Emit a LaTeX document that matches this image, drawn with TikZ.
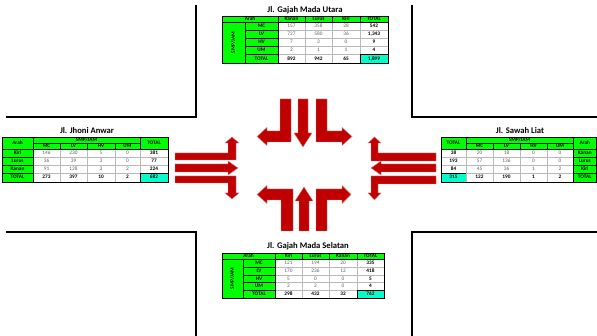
\documentclass[tikz,border=0pt]{standalone}
\usepackage{fontspec}
\setmainfont{Carlito}
\definecolor{xgreen}{RGB}{0,255,0}
\definecolor{xcyan}{RGB}{0,255,204}
\definecolor{arrowred}{RGB}{192,0,0}
\definecolor{datagray}{RGB}{95,95,95}

% one table cell: name, x1, y1, x2, y2, style, text
\newcommand{\tcell}[7]{%
  \node[#6, minimum width={(#4-#2)*1pt}, minimum height={(#5-#3)*1pt}] (#1) at ({(#2+#4)/2},{(#3+#5)/2}) {#7};}

\tikzset{
  cellbase/.style={rectangle, inner sep=0pt, outer sep=0pt, line width=0.5pt,
    text height=3.6pt, text depth=1pt},
  hd/.style={cellbase, fill=xgreen, draw=black, font=\fontsize{5.3}{5.3}\selectfont\bfseries},
  dt/.style={cellbase, fill=white, draw=gray!55, text=datagray, font=\fontsize{5.3}{5.3}\selectfont},
  tt/.style={cellbase, fill=white, draw=gray!55, font=\fontsize{5.3}{5.3}\selectfont\bfseries},
  gt/.style={cellbase, fill=xcyan, draw=black, font=\fontsize{5.3}{5.3}\selectfont\bfseries},
  frame/.style={draw=black, line width=0.8pt},
  ttl/.style={inner sep=0pt, font=\fontsize{8.6}{8.6}\selectfont\bfseries},
  road/.style={draw=black, line width=1.6pt},
  turnarrow/.style={fill=arrowred, draw=arrowred!50!white, line width=0.4pt, line join=miter}
}

\begin{document}
\begin{tikzpicture}[x=1pt, y=-1pt]
\useasboundingbox (0,0) rectangle (597,336);

% ---------------- road edges ----------------
\draw[road] (6,117) -- (196,117) -- (196,5);
\draw[road] (412,5) -- (412,117) -- (597,117);
\draw[road] (6,232) -- (196,232) -- (196,336);
\draw[road] (597,232) -- (412,232) -- (412,336);

% ---------------- movement arrows ----------------
% from the north
\draw[turnarrow] (280,99) -- (291,99) -- (291,142) -- (267,142) -- (267,145.5) -- (257,136.5) -- (267,127.5) -- (267,131) -- (280,131) -- cycle;
\draw[turnarrow] (298,99) -- (308,99) -- (308,133) -- (312,133) -- (303,147) -- (294,133) -- (298,133) -- cycle;
\draw[turnarrow] (316,99) -- (327,99) -- (327,131) -- (342,131) -- (342,127.5) -- (352,136.5) -- (342,145.5) -- (342,142) -- (316,142) -- cycle;
% from the south
\draw[turnarrow] (281,231) -- (293,231) -- (293,189) -- (267,189) -- (267,185.5) -- (257,194.5) -- (267,203.5) -- (267,200) -- (281,200) -- cycle;
\draw[turnarrow] (299,231) -- (309,231) -- (309,201) -- (313,201) -- (304,187) -- (295,201) -- (299,201) -- cycle;
\draw[turnarrow] (316,231) -- (316,189) -- (342,189) -- (342,185.5) -- (351,194.5) -- (342,203.5) -- (342,200) -- (327,200) -- (327,231) -- cycle;
% from the west
\draw[turnarrow] (175,153) -- (228,153) -- (228,143) -- (225,143) -- (232,137) -- (239,143) -- (236,143) -- (236,160) -- (175,160) -- cycle;
\draw[turnarrow] (175,164) -- (228,164) -- (228,161) -- (238,168) -- (228,175) -- (228,172) -- (175,172) -- cycle;
\draw[turnarrow] (175,176) -- (236,176) -- (236,193) -- (239,193) -- (232,199) -- (225,193) -- (228,193) -- (228,183) -- (175,183) -- cycle;
% from the east
\draw[turnarrow] (436,153) -- (378,153) -- (378,143) -- (381,143) -- (374.5,137) -- (368,143) -- (371,143) -- (371,161) -- (436,161) -- cycle;
\draw[turnarrow] (436,164) -- (381,164) -- (381,161) -- (371,168) -- (381,175) -- (381,172) -- (436,172) -- cycle;
\draw[turnarrow] (436,176) -- (371,176) -- (371,193) -- (368,193) -- (374.5,200) -- (381,193) -- (378,193) -- (378,184) -- (436,184) -- cycle;

% ---------------- Jl. Gajah Mada Utara ----------------
\node[ttl] (ttl-u) at (305,10) {Jl. Gajah Mada Utara};
\foreach \n/\ya/\yb/\va/\vb/\vc/\vt in {mc/22.5/30.5/157/358/28/542, lv/30.5/38.5/727/580/36/{1,343}, hv/38.5/46.5/7/3/0/9, um/46.5/54.5/2/1/1/4}{
  \tcell{u-\n-a}{278}{\ya}{305}{\yb}{dt}{\va}
  \tcell{u-\n-b}{305}{\ya}{332}{\yb}{dt}{\vb}
  \tcell{u-\n-c}{332}{\ya}{360}{\yb}{dt}{\vc}
  \tcell{u-\n-t}{360}{\ya}{388}{\yb}{tt}{\vt}
}
\tcell{u-tot-a}{278}{54.5}{305}{63}{tt}{892}
\tcell{u-tot-b}{305}{54.5}{332}{63}{tt}{942}
\tcell{u-tot-c}{332}{54.5}{360}{63}{tt}{65}
\tcell{u-tot-t}{360}{54.5}{388}{63}{gt}{1,899}
\foreach \n/\lab/\ya/\yb in {mc/MC/22.5/30.5, lv/LV/30.5/38.5, hv/HV/38.5/46.5, um/UM/46.5/54.5, tot/TOTAL/54.5/63}{
  \tcell{u-\n-l}{245}{\ya}{278}{\yb}{hd}{\lab}
}
\tcell{u-arah}{222}{16}{278}{22.5}{hd}{Arah}
\tcell{u-h-a}{278}{16}{305}{22.5}{hd}{Kanan}
\tcell{u-h-b}{305}{16}{332}{22.5}{hd}{Lurus}
\tcell{u-h-c}{332}{16}{360}{22.5}{hd}{Kiri}
\tcell{u-h-t}{360}{16}{388}{22.5}{hd}{TOTAL}
\node[hd, rotate=90, minimum width=40.5pt, minimum height=23pt] (u-smp) at (233.5,42.75) {SMP/JAM};
\draw[frame] (222,16) rectangle (388,63);

% ---------------- Jl. Gajah Mada Selatan ----------------
\node[ttl] (ttl-s) at (308,246) {Jl. Gajah Mada Selatan};
\foreach \n/\ya/\yb/\va/\vb/\vc/\vt in {mc/259.5/267/121/194/20/335, lv/267/275/170/236/12/418, hv/275/282.5/5/0/0/5, um/282.5/290/2/2/0/4}{
  \tcell{s-\n-a}{275}{\ya}{302}{\yb}{dt}{\va}
  \tcell{s-\n-b}{302}{\ya}{329}{\yb}{dt}{\vb}
  \tcell{s-\n-c}{329}{\ya}{357}{\yb}{dt}{\vc}
  \tcell{s-\n-t}{357}{\ya}{384}{\yb}{tt}{\vt}
}
\tcell{s-tot-a}{275}{290}{302}{298}{tt}{298}
\tcell{s-tot-b}{302}{290}{329}{298}{tt}{432}
\tcell{s-tot-c}{329}{290}{357}{298}{tt}{32}
\tcell{s-tot-t}{357}{290}{384}{298}{gt}{762}
\foreach \n/\lab/\ya/\yb in {mc/MC/259.5/267, lv/LV/267/275, hv/HV/275/282.5, um/UM/282.5/290, tot/TOTAL/290/298}{
  \tcell{s-\n-l}{243}{\ya}{275}{\yb}{hd}{\lab}
}
\tcell{s-arah}{222}{253}{275}{259.5}{hd}{Arah}
\tcell{s-h-a}{275}{253}{302}{259.5}{hd}{Kiri}
\tcell{s-h-b}{302}{253}{329}{259.5}{hd}{Lurus}
\tcell{s-h-c}{329}{253}{357}{259.5}{hd}{Kanan}
\tcell{s-h-t}{357}{253}{384}{259.5}{hd}{TOTAL}
\node[hd, rotate=90, minimum width=38.5pt, minimum height=21pt] (s-smp) at (232.5,278.75) {SMP/JAM};
\draw[frame] (222,253) rectangle (384,298);

% ---------------- Jl. Jhoni Anwar ----------------
\node[ttl] (ttl-w) at (87,131) {Jl. Jhoni Anwar};
\foreach \n/\ya/\yb/\va/\vb/\vc/\vd/\vt in {ki/149/157/146/230/5/0/381, lu/157/165/36/39/3/0/77, ka/165/173/91/128/3/2/224}{
  \tcell{w-\n-a}{33}{\ya}{60}{\yb}{dt}{\va}
  \tcell{w-\n-b}{60}{\ya}{87}{\yb}{dt}{\vb}
  \tcell{w-\n-c}{87}{\ya}{115}{\yb}{dt}{\vc}
  \tcell{w-\n-d}{115}{\ya}{140}{\yb}{dt}{\vd}
  \tcell{w-\n-t}{140}{\ya}{168}{\yb}{tt}{\vt}
}
\tcell{w-tot-a}{33}{173}{60}{182}{tt}{273}
\tcell{w-tot-b}{60}{173}{87}{182}{tt}{397}
\tcell{w-tot-c}{87}{173}{115}{182}{tt}{10}
\tcell{w-tot-d}{115}{173}{140}{182}{tt}{2}
\tcell{w-tot-t}{140}{173}{168}{182}{gt}{682}
\foreach \n/\lab/\ya/\yb in {ki/Kiri/149/157, lu/Lurus/157/165, ka/Kanan/165/173, tot/TOTAL/173/182}{
  \tcell{w-\n-l}{2}{\ya}{33}{\yb}{hd}{\lab}
}
\tcell{w-arah}{2}{137}{33}{149}{hd}{Arah}
\tcell{w-smp}{33}{137}{140}{143}{hd}{SMP/JAM}
\tcell{w-h-a}{33}{143}{60}{149}{hd}{MC}
\tcell{w-h-b}{60}{143}{87}{149}{hd}{LV}
\tcell{w-h-c}{87}{143}{115}{149}{hd}{HV}
\tcell{w-h-d}{115}{143}{140}{149}{hd}{UM}
\tcell{w-h-t}{140}{137}{168}{149}{hd}{TOTAL}
\draw[frame] (2,137) rectangle (168,182);

% ---------------- Jl. Sawah Liat ----------------
\node[ttl] (ttl-e) at (520,131) {Jl. Sawah Liat};
\foreach \n/\lab/\ya/\yb/\vt/\va/\vb/\vc/\vd in {ka/Kanan/149/157/38/20/18/0/0, lu/Lurus/157/165/193/57/136/0/0, ki/Kiri/165/173/84/45/36/1/2}{
  \tcell{e-\n-t}{441}{\ya}{466}{\yb}{tt}{\vt}
  \tcell{e-\n-a}{466}{\ya}{493}{\yb}{dt}{\va}
  \tcell{e-\n-b}{493}{\ya}{520}{\yb}{dt}{\vb}
  \tcell{e-\n-c}{520}{\ya}{547}{\yb}{dt}{\vc}
  \tcell{e-\n-d}{547}{\ya}{573}{\yb}{dt}{\vd}
  \tcell{e-\n-l}{573}{\ya}{596.5}{\yb}{hd}{\lab}
}
\tcell{e-tot-t}{441}{173}{466}{182}{gt}{315}
\tcell{e-tot-a}{466}{173}{493}{182}{tt}{122}
\tcell{e-tot-b}{493}{173}{520}{182}{tt}{190}
\tcell{e-tot-c}{520}{173}{547}{182}{tt}{1}
\tcell{e-tot-d}{547}{173}{573}{182}{tt}{2}
\tcell{e-tot-l}{573}{173}{596.5}{182}{hd}{TOTAL}
\tcell{e-h-t}{441}{137}{466}{149}{hd}{TOTAL}
\tcell{e-smp}{466}{137}{573}{143}{hd}{SMP/JAM}
\tcell{e-h-a}{466}{143}{493}{149}{hd}{MC}
\tcell{e-h-b}{493}{143}{520}{149}{hd}{LV}
\tcell{e-h-c}{520}{143}{547}{149}{hd}{HV}
\tcell{e-h-d}{547}{143}{573}{149}{hd}{UM}
\tcell{e-arah}{573}{137}{596.5}{149}{hd}{Arah}
\draw[frame] (441,137) rectangle (596.5,182);
\end{tikzpicture}
\end{document}
